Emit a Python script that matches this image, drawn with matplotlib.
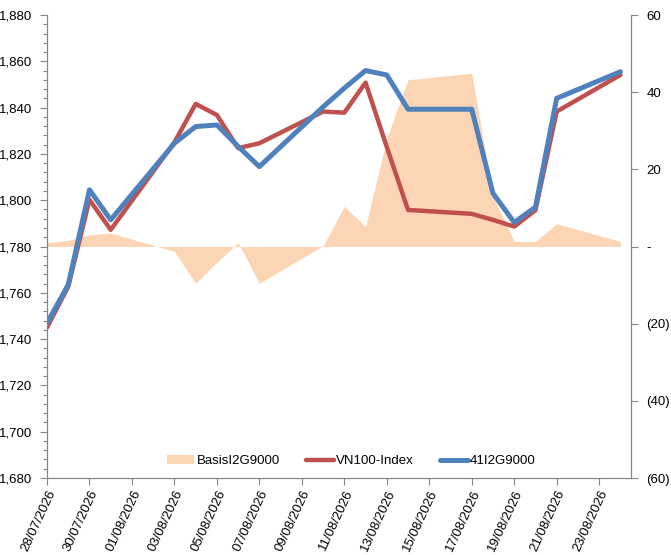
import matplotlib
matplotlib.use('Agg')
import matplotlib.pyplot as plt
import matplotlib.dates as mdates
from matplotlib.ticker import MultipleLocator, FuncFormatter
import pandas as pd

plt.rcParams['font.family'] = ['Liberation Sans', 'DejaVu Sans']

# trading days
dates = pd.to_datetime([
    '2026-07-28', '2026-07-29', '2026-07-30', '2026-07-31',
    '2026-08-03', '2026-08-04', '2026-08-05', '2026-08-06', '2026-08-07',
    '2026-08-10', '2026-08-11', '2026-08-12', '2026-08-13', '2026-08-14',
    '2026-08-17', '2026-08-18', '2026-08-19', '2026-08-20', '2026-08-21',
    '2026-08-24'])

vn100 = [1745.0, 1762.7, 1800.2, 1787.2, 1825.0, 1841.6, 1836.8, 1822.5, 1824.6,
         1838.3, 1837.8, 1850.8, 1823.0, 1795.8, 1794.1, 1791.5, 1788.6, 1795.7,
         1838.3, 1854.1]
fut = [1746.9, 1763.5, 1804.5, 1791.5, 1824.6, 1831.8, 1832.5, 1823.2, 1814.5,
       1840.3, 1848.4, 1856.0, 1854.1, 1839.3, 1839.3, 1803.0, 1790.4, 1797.0,
       1844.0, 1855.5]
basis = [1.0, 1.6, 3.0, 3.5, -1.3, -9.5, -4.1, 1.0, -9.5,
         0.2, 10.4, 5.1, 28.0, 43.2, 44.9, 13.0, 1.3, 1.3,
         5.9, 1.3]

grey = '#868686'

fig = plt.figure(figsize=(6.71, 5.55), dpi=100)
ax = fig.add_axes([47 / 671, 77 / 555, 584 / 671, 463 / 555])
ax2 = ax.twinx()
ax.set_zorder(ax2.get_zorder() + 1)
ax.patch.set_visible(False)

area = ax2.fill_between(dates, basis, 0, color='#FCD5B5', linewidth=0, label='BasisI2G9000')
l1, = ax.plot(dates, vn100, color='#C0504D', linewidth=3.2, solid_joinstyle='round',
              solid_capstyle='round', label='VN100-Index')
l2, = ax.plot(dates, fut, color='#4F81BD', linewidth=3.6, solid_joinstyle='round',
              solid_capstyle='round', label='41I2G9000')

ax.set_ylim(1680, 1880)
ax2.set_ylim(-60, 60)
ax.set_xlim(dates[0], dates[-1] + pd.Timedelta(hours=12))

ax.yaxis.set_major_locator(MultipleLocator(20))
ax.yaxis.set_minor_locator(MultipleLocator(4))
ax.yaxis.set_major_formatter(FuncFormatter(lambda v, p: f'{v:,.0f}'))
ax2.yaxis.set_major_locator(MultipleLocator(20))


def fmt_right(v, p):
    if abs(v) < 1e-9:
        return '-'
    if v < 0:
        return f'({abs(v):.0f})'
    return f'{v:.0f}'


ax2.yaxis.set_major_formatter(FuncFormatter(fmt_right))

ax.xaxis.set_major_locator(mdates.DayLocator(interval=2, bymonthday=None))
ticks = pd.date_range('2026-07-28', '2026-08-23', freq='2D')
ax.set_xticks(ticks)
ax.set_xticklabels([d.strftime('%d/%m/%Y') for d in ticks], rotation=65,
                   ha='right', va='top', rotation_mode='anchor')

for a in (ax, ax2):
    for s in a.spines.values():
        s.set_color(grey)
    a.spines['top'].set_visible(False)
    a.tick_params(colors=grey, labelcolor='black', labelsize=9.5, width=0.8)
ax.tick_params(axis='y', which='major', length=5)
ax.tick_params(axis='y', which='minor', length=3, color=grey, width=0.8)
ax.tick_params(axis='x', length=5, pad=2)
ax2.tick_params(axis='y', length=5, pad=6)
ax.tick_params(axis='y', pad=6)

ax.legend(handles=[area, l1, l2], loc='center', bbox_to_anchor=(351 / 671, 94 / 555),
          bbox_transform=fig.transFigure, ncol=3, frameon=False, fontsize=9.5,
          handlelength=2.1, handletextpad=0.15, columnspacing=2.0)

fig.savefig('out.png', dpi=100)
plt.close(fig)
